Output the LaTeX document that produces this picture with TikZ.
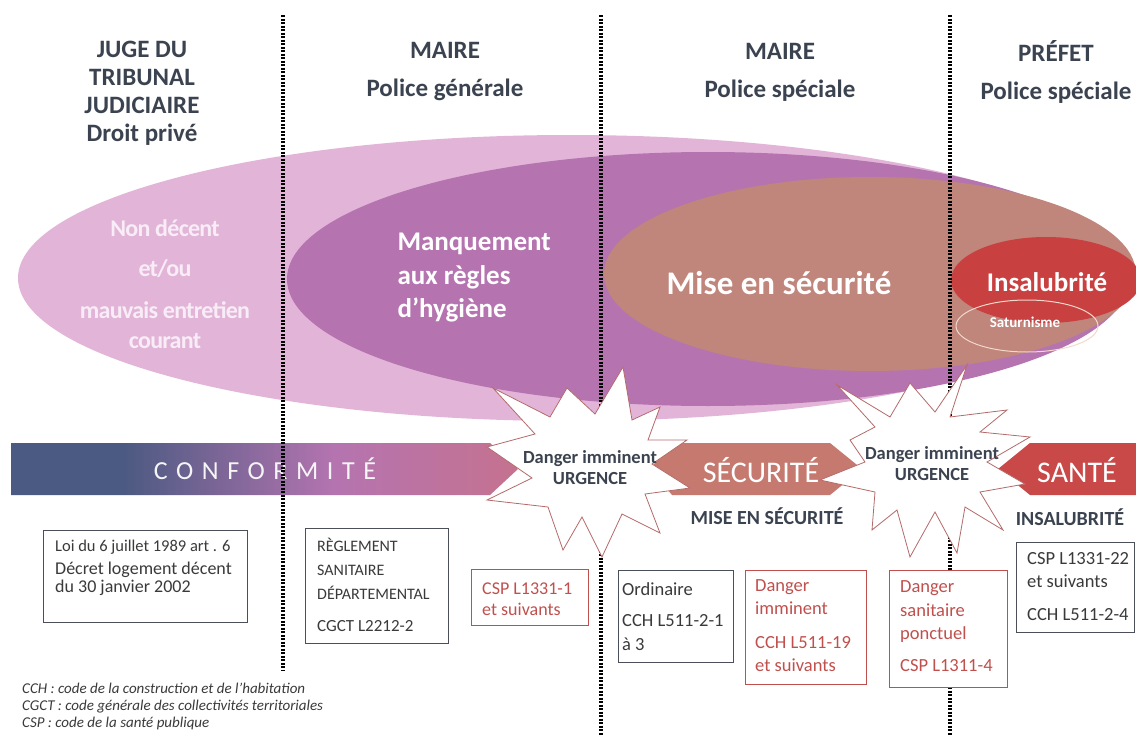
\documentclass[tikz,border=0pt]{standalone}
\usepackage{fontspec}
\setmainfont{Carlito}
\usepackage{tikz}
\definecolor{pinklight}{HTML}{E2B5D8}
\definecolor{purplemid}{HTML}{B574B0}
\definecolor{brownsec}{HTML}{C0857B}
\definecolor{redsante}{HTML}{C8403F}
\definecolor{navyconf}{HTML}{4B5A82}
\definecolor{roseconf}{HTML}{C5728F}
\definecolor{bandsec}{HTML}{C67A6F}
\definecolor{bandsante}{HTML}{C94848}
\definecolor{headgray}{HTML}{3C4350}
\definecolor{boxgray}{HTML}{4A4F5A}
\definecolor{boxtext}{HTML}{3A3A3A}
\definecolor{boxred}{HTML}{C0504D}
\definecolor{burstline}{HTML}{B56A6A}
\definecolor{satline}{HTML}{F3D9CC}
\definecolor{paletext}{HTML}{F8ECF6}
\pgfdeclarehorizontalshading{confshade}{100bp}{color(0bp)=(navyconf); color(25bp)=(navyconf); color(36bp)=(navyconf); color(57bp)=(purplemid); color(75bp)=(roseconf); color(100bp)=(roseconf)}

\begin{document}
\begin{tikzpicture}[x=1pt, y=-1pt,
    divider/.style={line width=3.2pt, dash pattern=on 2pt off 1.5pt},
    head/.style={text=headgray, align=center, font=\bfseries\fontsize{25}{28}\selectfont},
    maire/.style={head, font=\bfseries\fontsize{25}{38}\selectfont},
    inner/.style={text=white, align=center, font=\bfseries},
    bandtext/.style={text=white, font=\fontsize{30}{32}\selectfont},
    burst/.style={fill=white, draw=burstline, line width=0.8pt, line join=miter},
    bursttext/.style={text=headgray, align=center, font=\bfseries\fontsize{18.5}{21}\selectfont},
    sub/.style={text=headgray, font=\bfseries\fontsize{20}{24}\selectfont},
    refbox/.style={draw=boxgray, fill=white, line width=0.8pt, inner sep=0pt},
    redbox/.style={refbox, draw=boxred},
    reftext/.style={anchor=base west, align=left, inner sep=0pt, text=boxtext},
    redtext/.style={reftext, text=boxred}]
    \def\bt{443};
    \def\bb{495};
    \def\bm{469};
    \fill[white] (0,0) rectangle (1136,736);
    \useasboundingbox (0,0) rectangle (1136,736);
    % nested domains
    \fill[pinklight] (570,278) ellipse [x radius=552pt, y radius=143pt];
    \fill[purplemid] (708,279) ellipse [x radius=421pt, y radius=127pt];
    \fill[brownsec] (870,274) ellipse [x radius=266pt, y radius=97pt];
    \fill[redsante] (1046,280) ellipse [x radius=95pt, y radius=43pt];
    \draw[satline, line width=1pt] (1027,326) ellipse [x radius=71pt, y radius=26pt];
    \node[inner, font=\bfseries\fontsize{24}{30}\selectfont\addfontfeature{LetterSpace=-3}, text=paletext] (tnon) at (165,284) {Non décent\\[10pt]et/ou\\[12pt]mauvais entretien\\courant};
    \node[inner, anchor=west, align=left, font=\bfseries\fontsize{27}{33.5}\selectfont] (tmanq) at (394,278) {Manquement\\aux règles\\d’hygiène};
    \node[inner, font=\bfseries\fontsize{33}{36}\selectfont] (tmise) at (779,283) {Mise en sécurité};
    \node[inner, font=\bfseries\fontsize{27}{30}\selectfont] (tinsa) at (1047,282) {Insalubrité};
    \node[inner, font=\bfseries\fontsize{15}{18}\selectfont] (tsat) at (1025,322) {Saturnisme};
    % bands
    \shade[shading=confshade] (11,\bt) -- (490,\bt) -- (518,\bm) -- (490,\bb) -- (11,\bb) -- cycle;
    \fill[bandsec] (650,\bm) -- (672,\bt) -- (830,\bt) -- (862,\bm) -- (830,\bb) -- (672,\bb) -- cycle;
    \fill[bandsante] (998,\bm) -- (1030,\bt) -- (1136,\bt) -- (1136,\bb) -- (1030,\bb) -- cycle;
    \node[bandtext, font=\fontsize{26}{30}\selectfont\addfontfeature{LetterSpace=33}, text=white!92!gray] (tconf) at (265,469) {CONFORMITÉ};
    \node[bandtext] (tsecu) at (761,470) {SÉCURITÉ};
    \node[bandtext] (tsante) at (1077,470) {SANTÉ};
    % authorities
    \draw[divider] (283,15) -- (283,670);
    \draw[divider] (601,15) -- (601,736);
    \draw[divider] (950,15) -- (950,736);
    \node[head] (hjuge) at (142,93) {JUGE DU\\TRIBUNAL\\JUDICIAIRE\\Droit privé};
    \node[maire] (hmaire1) at (445,72) {MAIRE\\Police générale};
    \node[maire] (hmaire2) at (780,72) {MAIRE\\Police spéciale};
    \node[maire] (hprefet) at (1056,72) {PRÉFET\\Police spéciale};
    % urgences
    \draw[burst, shift={(590,462)}] (33,-95) -- (42,-42) -- (70,-55) -- (58,-22) -- (97,-22) -- (62,2) -- (100,26) -- (55,32) -- (70,71) -- (32,52) -- (12,95) -- (-8,55) -- (-27,88) -- (-42,45) -- (-103,38) -- (-58,16) -- (-103,-15) -- (-55,-28) -- (-97,-74) -- (-40,-45) -- (-23,-74) -- (5,-48) -- cycle;
    \draw[burst, shift={(925,462)}] (42,-97) -- (25,-45) -- (82,-52) -- (55,-30) -- (105,-25) -- (62,0) -- (100,22) -- (55,30) -- (78,68) -- (40,45) -- (32,91) -- (10,50) -- (-15,95) -- (-28,48) -- (-53,68) -- (-50,30) -- (-105,18) -- (-60,0) -- (-75,-22) -- (-50,-35) -- (-88,-77) -- (-35,-45) -- (-15,-79) -- (10,-50) -- cycle;
    \node[bursttext] (u1) at (590,468) {Danger imminent\\URGENCE};
    \node[bursttext] (u2) at (932,464) {Danger imminent\\URGENCE};
    \node[sub] (smise) at (767,516) {MISE EN SÉCURITÉ};
    \node[sub] (sinsa) at (1070,517) {INSALUBRITÉ};
    % texts of reference
    \node[refbox, minimum width=204pt, minimum height=92pt] (bloi) at (145.5,576) {};
    \node[refbox, minimum width=143pt, minimum height=115pt] (brsd) at (376.5,585.5) {};
    \node[redbox, minimum width=117pt, minimum height=56pt] (bcsp1) at (529.5,597) {};
    \node[refbox, minimum width=115pt, minimum height=92pt] (bord) at (675.5,616) {};
    \node[redbox, minimum width=121pt, minimum height=114pt] (bdi) at (805.5,627) {};
    \node[redbox, minimum width=118pt, minimum height=117pt] (bds) at (948,628.5) {};
    \node[refbox, minimum width=118pt, minimum height=90pt] (bcsp22) at (1075,587) {};
    \node[reftext, font=\fontsize{18}{18}\selectfont] (tloi) at (55,592) {{\fontsize{16.5}{18}\selectfont Loi du 6 juillet 1989 art . 6}\\[5pt]Décret logement décent\\du 30 janvier 2002};
    \node[reftext, font=\fontsize{16}{24}\selectfont] (trsd) at (317,631) {RÈGLEMENT\\SANITAIRE\\DÉPARTEMENTAL\\[8pt]{\fontsize{17}{20}\selectfont CGCT L2212-2}};
    \node[redtext, font=\fontsize{18}{21}\selectfont] (tcsp1) at (482,615) {CSP L1331-1\\et suivants};
    \node[reftext, font=\fontsize{18.5}{24}\selectfont] (tord) at (622,650) {Ordinaire\\[7pt]CCH L511-2-1\\à 3};
    \node[redtext, font=\fontsize{18.5}{23}\selectfont] (tdi) at (755,671) {Danger\\imminent\\[11pt]CCH L511-19\\et suivants};
    \node[redtext, font=\fontsize{18.5}{23.5}\selectfont] (tds) at (900,671) {Danger\\sanitaire\\ponctuel\\[8pt]CSP L1311-4};
    \node[reftext, font=\fontsize{18.5}{23}\selectfont] (tcsp22) at (1027,620) {CSP L1331-22\\et suivants\\[10pt]CCH L511-2-4};
    % legend
    \node[reftext, font=\itshape\fontsize{15}{17}\selectfont] (legend) at (22,727) {CCH : code de la construction et de l’habitation\\CGCT : code générale des collectivités territoriales\\CSP : code de la santé publique};
\end{tikzpicture}
\end{document}
